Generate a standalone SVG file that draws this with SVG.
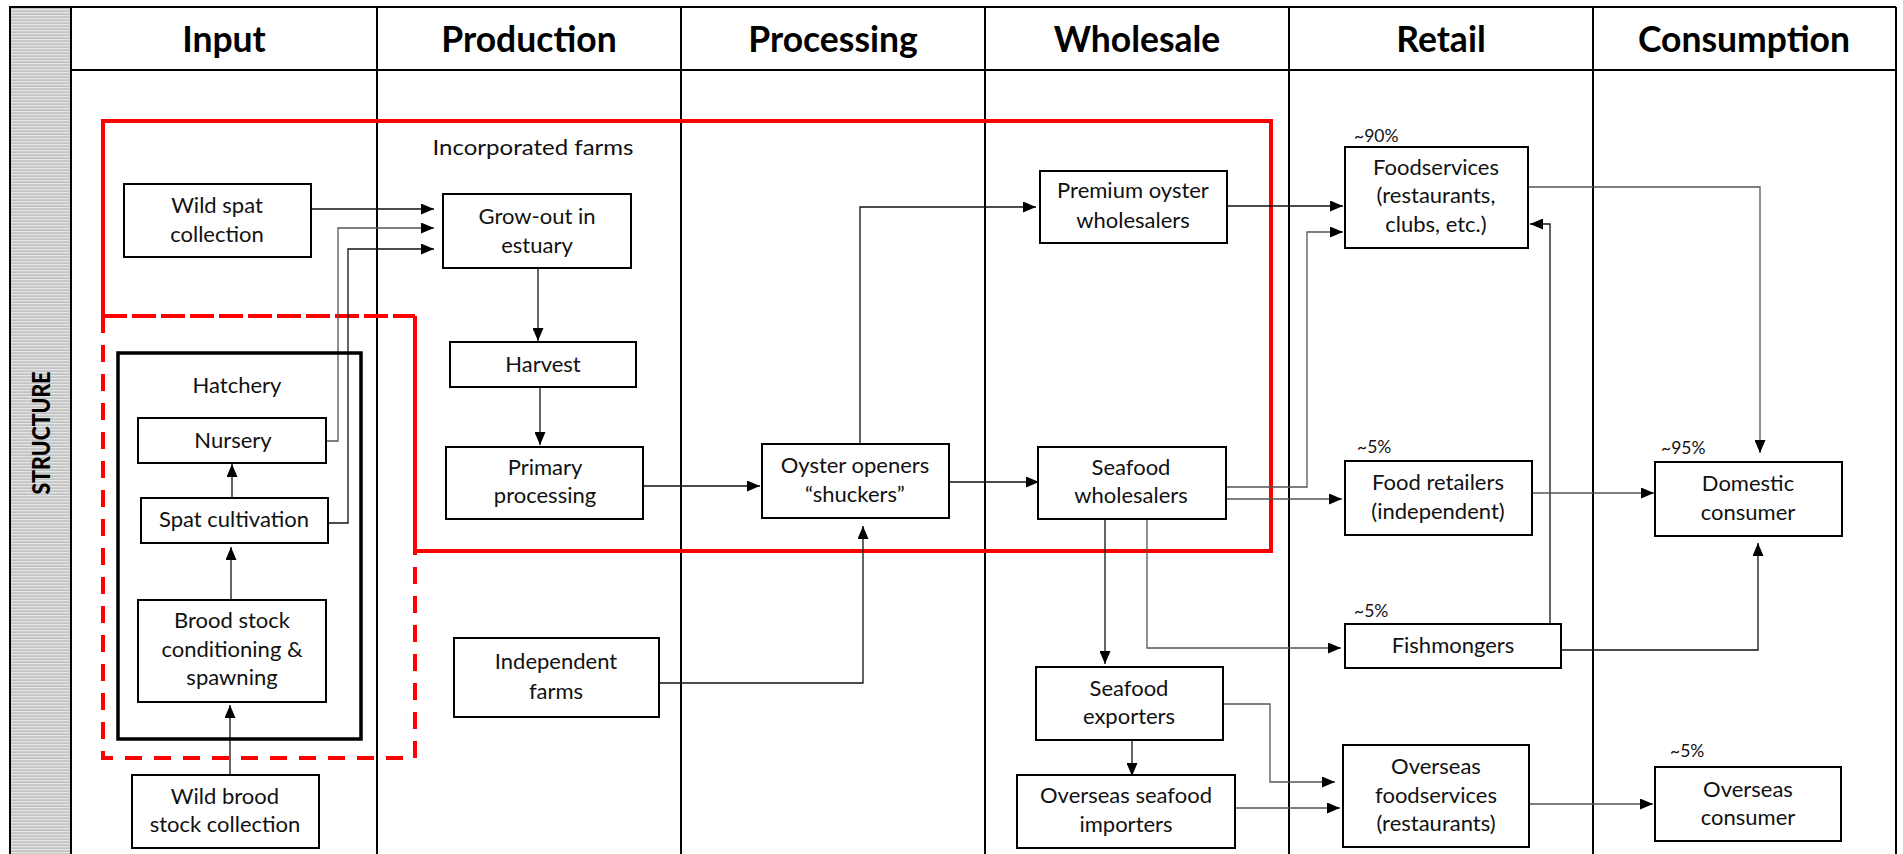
<svg xmlns="http://www.w3.org/2000/svg" width="1903" height="854" viewBox="0 0 1903 854">
  <defs>
    <pattern id="stripes" width="4" height="3" patternUnits="userSpaceOnUse">
      <rect width="4" height="3" fill="#e4e4e4"/>
      <rect y="1.5" width="4" height="1.2" fill="#b4b4b4"/>
    </pattern>
    <marker id="arrow" viewBox="0 0 13 11" refX="13" refY="5.5" markerWidth="13" markerHeight="11" markerUnits="userSpaceOnUse" orient="auto">
      <path d="M0,0 L13,5.5 L0,11 Z" fill="#000"/>
    </marker>
    <style>
      .grid { stroke: #000; stroke-width: 2; fill: none; }
      .head { font-family: Lato, "Liberation Sans", sans-serif; font-weight: bold; font-size: 35.5px; text-anchor: middle; fill: #000; }
      .box { fill: #fff; stroke: #000; stroke-width: 2; }
      .lbl { font-family: Lato, "Liberation Sans", sans-serif; font-size: 22px; text-anchor: middle; fill: #111; }
      .pct { font-family: Lato, "Liberation Sans", sans-serif; font-size: 17.5px; fill: #111; }
      .conn path { fill: none; stroke: #111; stroke-width: 1.3; }
      .conn path.arr { marker-end: url(#arrow); }
      .conn path.grey { stroke: #555; }
      .red { fill: none; stroke: #ff0000; stroke-width: 4; }
    </style>
  </defs>

  <rect width="1903" height="854" fill="#fff"/>

  <!-- side bar -->
  <rect x="10" y="7" width="61" height="852" fill="url(#stripes)" stroke="#000" stroke-width="2"/>
  <text transform="translate(50,433) rotate(-90)" font-family="Lato, 'Liberation Sans', sans-serif" font-weight="900" font-size="24" text-anchor="middle" textLength="123" lengthAdjust="spacingAndGlyphs">STRUCTURE</text>

  <!-- column frame -->
  <g id="columns">
    <path class="grid" d="M71,7 H1896 M71,70 H1896 M71,7 V854 M377,7 V854 M681,7 V854 M985,7 V854 M1289,7 V854 M1593,7 V854 M1896,7 V854"/>
    <text class="head" x="224" y="52">Input</text>
    <text class="head" x="529" y="52">Production</text>
    <text class="head" x="833" y="52">Processing</text>
    <text class="head" x="1137" y="52">Wholesale</text>
    <text class="head" x="1441" y="52">Retail</text>
    <text class="head" x="1744" y="52">Consumption</text>
  </g>

  <!-- incorporated farms outline and hatchery-related dashed area -->
  <g id="incorporated-farms">
    <path class="red" d="M103,316 V121 H1271 V551 H415 V316"/>
    <text class="lbl" x="533" y="155" textLength="201" lengthAdjust="spacingAndGlyphs">Incorporated farms</text>
  </g>
  <g id="hatchery-area">
    <path class="red" d="M103,316 V758 H415 V551" stroke-dasharray="17 12"/>
    <path class="red" d="M103,316 H415" stroke-dasharray="24 5"/>
  </g>

  <!-- connectors -->
  <g id="connectors" class="conn">
    <path class="arr" d="M311,209 H434"/>
    <path class="arr grey" d="M326,441 H338 V228 H434"/>
    <path class="arr" d="M328,523 H348 V249 H434"/>
    <path class="arr" d="M538,268 V341"/>
    <path class="arr" d="M540,387 V445"/>
    <path class="arr" d="M232,498 V464"/>
    <path class="arr" d="M231,600 V547"/>
    <path class="arr" d="M230,775 V705"/>
    <path class="arr" d="M643,486 H760"/>
    <path class="arr" d="M659,683 H863 V526"/>
    <path class="arr" d="M860,444 V207 H1036"/>
    <path class="arr" d="M949,482 H1039"/>
    <path class="arr" d="M1227,206 H1343"/>
    <path class="arr grey" d="M1226,487 H1307 V232 H1343"/>
    <path class="arr grey" d="M1226,499 H1342"/>
    <path class="arr" d="M1105,519 V664"/>
    <path class="arr grey" d="M1147,519 V648 H1341"/>
    <path class="arr" d="M1132,740 V776"/>
    <path class="arr grey" d="M1223,704 H1270 V782 H1335"/>
    <path class="arr grey" d="M1235,808 H1340"/>
    <path class="arr grey" d="M1528,187 H1760 V453"/>
    <path class="arr" d="M1550,624 V224 H1530"/>
    <path class="arr grey" d="M1532,493 H1654"/>
    <path class="arr" d="M1561,650 H1758 V543"/>
    <path class="arr grey" d="M1529,804 H1653"/>
  </g>

  <!-- Input column -->
  <g id="wild-spat">
    <rect class="box" x="124" y="184" width="187" height="73"/>
    <text class="lbl" x="217" y="213">Wild spat</text>
    <text class="lbl" x="217" y="242">collection</text>
  </g>
  <g id="hatchery">
    <rect x="118" y="353" width="243" height="386" fill="none" stroke="#000" stroke-width="3.5"/>
    <text class="lbl" x="237" y="393">Hatchery</text>
  </g>
  <g id="nursery">
    <rect class="box" x="138" y="418" width="188" height="45"/>
    <text class="lbl" x="233" y="448">Nursery</text>
  </g>
  <g id="spat-cultivation">
    <rect class="box" x="141" y="498" width="187" height="45"/>
    <text class="lbl" x="234" y="527">Spat cultivation</text>
  </g>
  <g id="brood-stock">
    <rect class="box" x="138" y="600" width="188" height="102"/>
    <text class="lbl" x="232" y="628">Brood stock</text>
    <text class="lbl" x="232" y="657">conditioning &amp;</text>
    <text class="lbl" x="232" y="685">spawning</text>
  </g>
  <g id="wild-brood">
    <rect class="box" x="132" y="775" width="187" height="73"/>
    <text class="lbl" x="225" y="804">Wild brood</text>
    <text class="lbl" x="225" y="832">stock collection</text>
  </g>

  <!-- Production column -->
  <g id="grow-out">
    <rect class="box" x="443" y="194" width="188" height="74"/>
    <text class="lbl" x="537" y="224">Grow-out in</text>
    <text class="lbl" x="537" y="253">estuary</text>
  </g>
  <g id="harvest">
    <rect class="box" x="450" y="342" width="186" height="45"/>
    <text class="lbl" x="543" y="372">Harvest</text>
  </g>
  <g id="primary-processing">
    <rect class="box" x="446" y="447" width="197" height="72"/>
    <text class="lbl" x="545" y="475">Primary</text>
    <text class="lbl" x="545" y="503">processing</text>
  </g>
  <g id="independent-farms">
    <rect class="box" x="454" y="638" width="205" height="79"/>
    <text class="lbl" x="556" y="669">Independent</text>
    <text class="lbl" x="556" y="699">farms</text>
  </g>

  <!-- Processing column -->
  <g id="oyster-openers">
    <rect class="box" x="762" y="444" width="187" height="74"/>
    <text class="lbl" x="855" y="473">Oyster openers</text>
    <text class="lbl" x="855" y="502">“shuckers”</text>
  </g>

  <!-- Wholesale column -->
  <g id="premium-wholesalers">
    <rect class="box" x="1040" y="171" width="187" height="72"/>
    <text class="lbl" x="1133" y="198">Premium oyster</text>
    <text class="lbl" x="1133" y="228">wholesalers</text>
  </g>
  <g id="seafood-wholesalers">
    <rect class="box" x="1038" y="447" width="188" height="72"/>
    <text class="lbl" x="1131" y="475">Seafood</text>
    <text class="lbl" x="1131" y="503">wholesalers</text>
  </g>
  <g id="seafood-exporters">
    <rect class="box" x="1036" y="667" width="187" height="73"/>
    <text class="lbl" x="1129" y="696">Seafood</text>
    <text class="lbl" x="1129" y="724">exporters</text>
  </g>
  <g id="overseas-importers">
    <rect class="box" x="1017" y="775" width="218" height="73"/>
    <text class="lbl" x="1126" y="803">Overseas seafood</text>
    <text class="lbl" x="1126" y="832">importers</text>
  </g>

  <!-- Retail column -->
  <g id="foodservices">
    <text class="pct" x="1354" y="142">~90%</text>
    <rect class="box" x="1345" y="147" width="183" height="101"/>
    <text class="lbl" x="1436" y="175">Foodservices</text>
    <text class="lbl" x="1436" y="203">(restaurants,</text>
    <text class="lbl" x="1436" y="232">clubs, etc.)</text>
  </g>
  <g id="food-retailers">
    <text class="pct" x="1357" y="453">~5%</text>
    <rect class="box" x="1345" y="461" width="187" height="74"/>
    <text class="lbl" x="1438" y="490">Food retailers</text>
    <text class="lbl" x="1438" y="519">(independent)</text>
  </g>
  <g id="fishmongers">
    <text class="pct" x="1354" y="617">~5%</text>
    <rect class="box" x="1345" y="624" width="216" height="44"/>
    <text class="lbl" x="1453" y="653">Fishmongers</text>
  </g>
  <g id="overseas-foodservices">
    <rect class="box" x="1343" y="745" width="186" height="102"/>
    <text class="lbl" x="1436" y="774">Overseas</text>
    <text class="lbl" x="1436" y="803">foodservices</text>
    <text class="lbl" x="1436" y="831">(restaurants)</text>
  </g>

  <!-- Consumption column -->
  <g id="domestic-consumer">
    <text class="pct" x="1661" y="454">~95%</text>
    <rect class="box" x="1655" y="462" width="187" height="74"/>
    <text class="lbl" x="1748" y="491">Domestic</text>
    <text class="lbl" x="1748" y="520">consumer</text>
  </g>
  <g id="overseas-consumer">
    <text class="pct" x="1670" y="757">~5%</text>
    <rect class="box" x="1655" y="767" width="186" height="74"/>
    <text class="lbl" x="1748" y="797">Overseas</text>
    <text class="lbl" x="1748" y="825">consumer</text>
  </g>
</svg>
